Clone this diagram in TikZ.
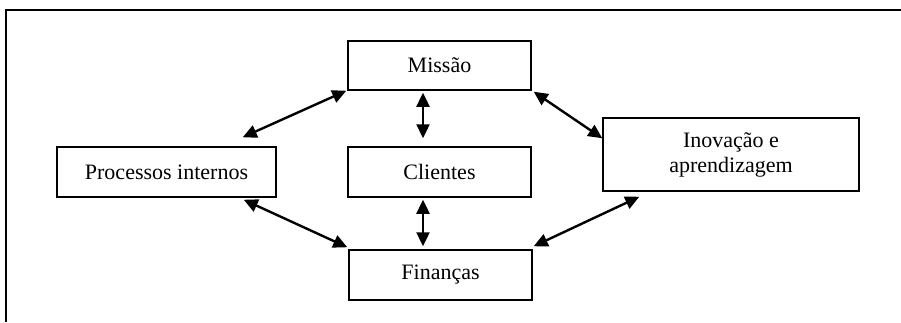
\documentclass[tikz,border=0pt]{standalone}
\usepackage{fontspec}
\setmainfont{Liberation Serif}
\usetikzlibrary{arrows.meta}
\begin{document}
\begin{tikzpicture}[x=1pt,y=1pt,
  boxnode/.style={draw,line width=1.5pt,rectangle,inner sep=0pt,align=center,
    font=\fontsize{22}{25}\selectfont},
  link/.style={line width=2.4pt,{Triangle[length=14pt,width=13pt]}-{Triangle[length=14pt,width=13pt]}}]
\useasboundingbox (0,0) rectangle (901,322);
\draw[line width=1.3pt] (6,0) -- (6,312) -- (901,312);
\node[boxnode,minimum width=219pt,minimum height=50pt] (pi) at (166.5,150) {Processos internos};
\node[boxnode,minimum width=183pt,minimum height=49pt] (mi) at (439.5,256.5) {Missão};
\node[boxnode,minimum width=183pt,minimum height=50pt] (cl) at (439.5,150) {Clientes};
\node[boxnode,minimum width=183pt,minimum height=50pt] (fi) at (440.5,47) {Finanças};
\node[boxnode,minimum width=256pt,minimum height=73pt] (in) at (731,167.5) {Inovação e\\aprendizagem};
\draw[link] ([shift={(-34,9)}]pi.north east) -- ([shift={(-1,0)}]mi.south west);
\draw[link] ([shift={(-33,-2)}]pi.south east) -- ([shift={(-1,2)}]fi.north west);
\draw[link] ([shift={(-16.5,-2)}]mi.south) -- ([shift={(-16.5,8)}]cl.north);
\draw[link] ([shift={(-16.5,-2)}]cl.south) -- ([shift={(-17.5,3)}]fi.north);
\draw[link] ([shift={(2,-1)}]mi.south east) -- ([shift={(0,-21)}]in.north west);
\draw[link] ([shift={(1,3)}]fi.north east) -- ([shift={(37,-5)}]in.south west);
\end{tikzpicture}
\end{document}
